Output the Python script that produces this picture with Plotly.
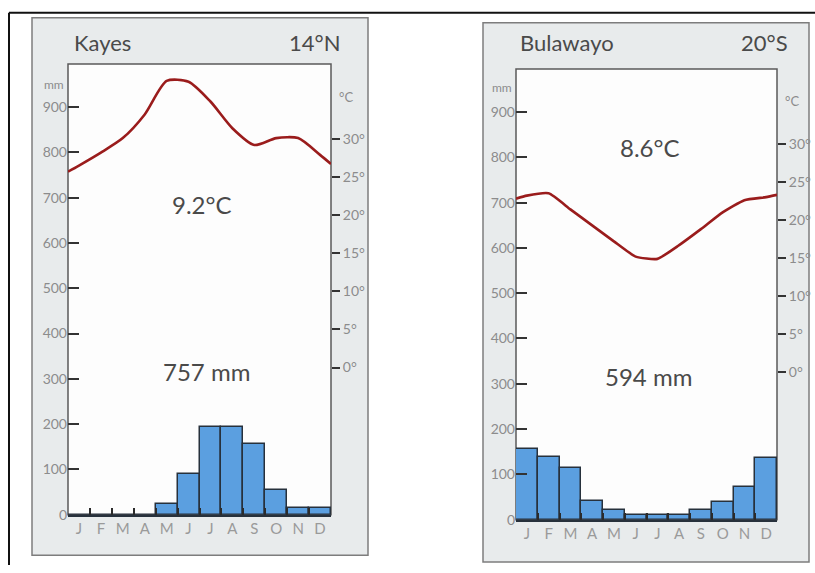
import plotly.graph_objects as go

# ---------------- data ----------------
months = ["J", "F", "M", "A", "M", "J", "J", "A", "S", "O", "N", "D"]
month_pos = [1, 2, 3, 4, 5, 6, 7, 8, 9, 10, 11, 12]

kayes_rain = [0, 0, 0, 0, 24, 90, 194, 194, 155, 54, 15, 15]
kayes_temp = [26.5, 28.2, 30.1, 33.2, 37.6, 37.5, 34.9, 31.4, 29.2, 30.1, 30.1, 27.9]
kayes_temp_edges = [25.7, 26.7]          # curve height at the left / right frame edge

bulawayo_rain = [156, 138, 114, 42, 22, 11, 11, 11, 22, 40, 73, 136]
bulawayo_temp = [23.2, 23.5, 21.4, 19.3, 17.2, 15.2, 14.9, 16.7, 18.8, 21.0, 22.6, 23.0]
bulawayo_temp_edges = [22.8, 23.3]

mm_ticks = [0, 100, 200, 300, 400, 500, 600, 700, 800, 900]
deg_ticks = [0, 5, 10, 15, 20, 25, 30]
deg_labels = ["0°", "5°", "10°", "15°", "20°", "25°", "30°"]

stations = [
    dict(name="Kayes", lat="14°N", temp_range="9.2°C", total="757 mm",
         rain=kayes_rain, temp=kayes_temp, edges=kayes_temp_edges),
    dict(name="Bulawayo", lat="20°S", temp_range="8.6°C", total="594 mm",
         rain=bulawayo_rain, temp=bulawayo_temp, edges=bulawayo_temp_edges),
]

# ---------------- layout geometry (pixels) ----------------
W, H = 815, 573
def fx(px):
    return px / W
def fy(py):
    return 1 - py / H

MM_MAX = 995
T_MIN, T_MAX = -325 / 16.83, (MM_MAX - 325) / 16.83

panels = [
    dict(outer=(32, 18, 368, 563), inner=(68, 65, 331, 522),
         title_xy=(72, 43), lat_xy=(342, 43), trange_xy=(202, 207), total_xy=(207, 377),
         mm_xy=(66, 86), c_xy=(337, 98)),
    dict(outer=(483, 23, 809, 570), inner=(516, 70, 777, 527),
         title_xy=(518, 43), lat_xy=(790, 43), trange_xy=(650, 150), total_xy=(648, 382),
         mm_xy=(514, 89), c_xy=(783, 102)),
]

FONT = "Lato"
BAR_FILL = "#5b9fe0"
BAR_LINE = "#27313c"
TEMP_COLOR = "#9a1c1c"
TICKLBL = "#8c8c8c"
TEXT = "#4a4a4a"

fig = go.Figure()
layout = dict(
    width=W, height=H,
    margin=dict(l=0, r=0, t=0, b=0),
    paper_bgcolor="white",
    plot_bgcolor="rgba(0,0,0,0)",
    showlegend=False,
    font=dict(family=FONT, color=TEXT),
)
shapes = []
annotations = []

# outer black frame (top and left edges of the page figure)
shapes.append(dict(type="line", xref="paper", yref="paper", x0=fx(9), x1=fx(815), y0=fy(13), y1=fy(13),
                   line=dict(color="#111", width=2), layer="below"))
shapes.append(dict(type="line", xref="paper", yref="paper", x0=fx(9), x1=fx(9), y0=fy(13), y1=fy(573),
                   line=dict(color="#111", width=2), layer="below"))

for i, (st, pn) in enumerate(zip(stations, panels)):
    xa = "x" if i == 0 else "x2"
    ya_mm = "y" if i == 0 else "y3"
    ya_t = "y2" if i == 0 else "y4"
    xkey = "xaxis" if i == 0 else "xaxis2"
    ymkey = "yaxis" if i == 0 else "yaxis3"
    ytkey = "yaxis2" if i == 0 else "yaxis4"

    ox0, oy0, ox1, oy1 = pn["outer"]
    ix0, iy0, ix1, iy1 = pn["inner"]

    # grey card and white plotting area
    shapes.append(dict(type="rect", xref="paper", yref="paper",
                       x0=fx(ox0), x1=fx(ox1), y0=fy(oy1), y1=fy(oy0),
                       fillcolor="#e8ebec", line=dict(color="#7d7d7d", width=1.5), layer="below"))
    shapes.append(dict(type="rect", xref="paper", yref="paper",
                       x0=fx(ix0), x1=fx(ix1), y0=fy(iy1), y1=fy(iy0),
                       fillcolor="#fdfdfd", line=dict(color="#5a5a5a", width=1.5), layer="below"))

    # precipitation bars
    fig.add_trace(go.Bar(
        x=month_pos, y=st["rain"], width=1, xaxis=xa, yaxis=ya_mm,
        marker=dict(color=BAR_FILL, line=dict(color=BAR_LINE, width=1.5)),
        hoverinfo="skip"))

    # temperature curve
    tx = [0.5] + month_pos + [12.5]
    ty = [st["edges"][0]] + st["temp"] + [st["edges"][1]]
    fig.add_trace(go.Scatter(
        x=tx, y=ty, mode="lines", xaxis=xa, yaxis=ya_t,
        line=dict(color=TEMP_COLOR, width=2.6, shape="spline", smoothing=0.7 if i == 0 else 0.5),
        hoverinfo="skip"))

    xdom = [fx(ix0), fx(ix1)]
    layout[xkey] = dict(
        domain=xdom, range=[0.5, 12.5], anchor=ya_mm,
        tickmode="array", tickvals=month_pos, ticktext=months, ticks="",
        tickfont=dict(family=FONT, size=15, color="#9a9a9a"),
        showgrid=False, zeroline=False, showline=True, linecolor=BAR_LINE, linewidth=1.5,
        minor=dict(tickmode="array", tickvals=[m + 0.5 for m in month_pos[:-1]],
                   ticks="inside", ticklen=7, tickwidth=1.5, tickcolor="#2b2b2b", showgrid=False),
        fixedrange=True,
    )
    layout[ymkey] = dict(
        domain=[fy(iy1), fy(iy0)], range=[0, MM_MAX], anchor=xa,
        tickmode="array", tickvals=mm_ticks, ticktext=[str(v) for v in mm_ticks],
        ticks="inside", ticklen=11, tickwidth=1.5, tickcolor="#333",
        tickfont=dict(family=FONT, size=14, color=TICKLBL),
        showgrid=False, zeroline=False, showline=False, fixedrange=True,
    )
    layout[ytkey] = dict(
        domain=[fy(iy1), fy(iy0)], range=[T_MIN, T_MAX], anchor=xa, overlaying=ya_mm, side="right",
        tickmode="array", tickvals=deg_ticks, ticktext=deg_labels,
        ticks="outside", ticklen=8, tickwidth=1.5, tickcolor="#333",
        tickfont=dict(family=FONT, size=14, color=TICKLBL),
        showgrid=False, zeroline=False, showline=False, fixedrange=True,
    )

    # texts
    annotations.append(dict(xref="paper", yref="paper", x=fx(pn["title_xy"][0]), y=fy(pn["title_xy"][1]),
                            text=st["name"], showarrow=False, xanchor="left", yanchor="middle",
                            font=dict(family=FONT, size=22, color=TEXT)))
    annotations.append(dict(xref="paper", yref="paper", x=fx(pn["lat_xy"][0]), y=fy(pn["lat_xy"][1]),
                            text=st["lat"], showarrow=False, xanchor="right", yanchor="middle",
                            font=dict(family=FONT, size=22, color=TEXT)))
    annotations.append(dict(xref="paper", yref="paper", x=fx(pn["trange_xy"][0]), y=fy(pn["trange_xy"][1]),
                            text=st["temp_range"], showarrow=False, xanchor="center", yanchor="middle",
                            font=dict(family=FONT, size=24, color=TEXT)))
    annotations.append(dict(xref="paper", yref="paper", x=fx(pn["total_xy"][0]), y=fy(pn["total_xy"][1]),
                            text=st["total"], showarrow=False, xanchor="center", yanchor="middle",
                            font=dict(family=FONT, size=24, color=TEXT)))
    annotations.append(dict(xref="paper", yref="paper", x=fx(pn["mm_xy"][0]), y=fy(pn["mm_xy"][1]),
                            text="mm", showarrow=False, xanchor="right", yanchor="middle",
                            font=dict(family=FONT, size=12, color=TICKLBL)))
    annotations.append(dict(xref="paper", yref="paper", x=fx(pn["c_xy"][0]), y=fy(pn["c_xy"][1]),
                            text="°C", showarrow=False, xanchor="left", yanchor="middle",
                            font=dict(family=FONT, size=13, color=TICKLBL)))

layout["shapes"] = shapes
layout["annotations"] = annotations
layout["bargap"] = 0
fig.update_layout(**layout)

fig.write_html(
    "out.html",
    config={"displayModeBar": False},
    post_script="document.body.style.margin='0';document.body.style.overflow='hidden';",
)
